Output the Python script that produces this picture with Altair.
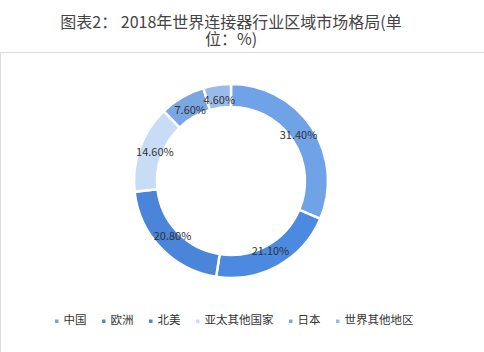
import altair as alt
import pandas as pd

regions = ["中国", "欧洲", "北美", "亚太其他国家", "日本", "世界其他地区"]
shares = [31.4, 21.1, 20.8, 14.6, 7.6, 4.6]
labels = ["31.40%", "21.10%", "20.80%", "14.60%", "7.60%", "4.60%"]
colors = ["#6fa2e6", "#4b8ae0", "#4a85da", "#c9dcf6", "#7aa6e4", "#98bbea"]

df = pd.DataFrame({"region": regions, "share": shares, "label": labels,
                   "order": list(range(len(regions)))})

TOP = 52
W, H = 484, 352 - TOP
CX, CY = 231, 181 - TOP

base = alt.Chart(df).encode(
    theta=alt.Theta("share:Q", stack=True),
    order=alt.Order("order:Q", sort="ascending"),
)

arcs = base.mark_arc(outerRadius=97, innerRadius=74, stroke="white", strokeWidth=2.5).encode(
    color=alt.Color("region:N", sort=regions,
                    scale=alt.Scale(domain=regions, range=colors),
                    legend=alt.Legend(title=None, orient="none", direction="horizontal",
                                      legendX=51, legendY=322 - TOP - 7, columns=6,
                                      symbolType="square", symbolSize=25,
                                      labelFontSize=11.5, labelColor="#333333",
                                      labelFont="Noto Sans CJK SC",
                                      columnPadding=11, symbolOffset=0, labelOffset=1)),
    x=alt.value(CX), y=alt.value(CY),
)

texts = base.mark_text(radius=81, fontSize=11, color="#333333",
                       font="Noto Sans CJK SC").encode(
    text="label:N", x=alt.value(CX), y=alt.value(CY),
)

chart = alt.layer(arcs, texts).properties(
    width=W, height=H,
    title=alt.Title(["图表2： 2018年世界连接器行业区域市场格局(单", "位：%)"],
                    fontSize=16, fontWeight="normal", color="#444444",
                    font="Noto Sans CJK SC", anchor="middle", offset=4,
                    lineHeight=17, dx=-11),
    autosize=alt.AutoSizeParams(type="none"),
    padding={"top": TOP, "left": 0, "right": 0, "bottom": 0},
).configure_view(stroke=None).configure(background="white")

chart.save("out.html", embed_options={"renderer": "svg", "actions": False})
